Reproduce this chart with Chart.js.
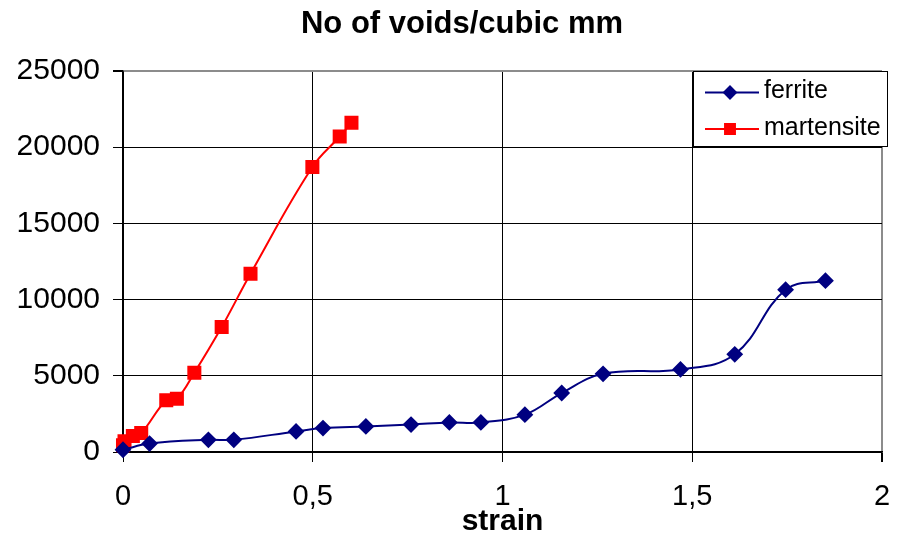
<!DOCTYPE html>
<html><head><meta charset="utf-8">
<script src="https://cdn.jsdelivr.net/npm/chart.js@4/dist/chart.umd.min.js"></script>
<style>html,body{margin:0;padding:0;background:#fff}canvas{display:block}</style>
</head><body>
<canvas id="c" width="898" height="540"></canvas>
<script>
const chartTitle = 'No of voids/cubic mm';
const xTitle = 'strain';
const seriesNames = ['ferrite', 'martensite'];
const ferriteStrain = [0, 0.07, 0.225, 0.292, 0.456, 0.527, 0.64, 0.759, 0.86, 0.943, 1.059, 1.156, 1.265, 1.469, 1.612, 1.746, 1.851];
const ferriteVoids  = [150, 550, 800, 800, 1350, 1570, 1680, 1800, 1940, 1940, 2450, 3870, 5130, 5420, 6410, 10650, 11240];
const martensiteStrain = [0, 0.004, 0.026, 0.048, 0.114, 0.142, 0.188, 0.26, 0.336, 0.499, 0.571, 0.602];
const martensiteVoids  = [450, 700, 1050, 1250, 3400, 3500, 5200, 8200, 11700, 18700, 20700, 21600];
const xTicks = [0, 0.5, 1, 1.5, 2];
const yTicks = [0, 5000, 10000, 15000, 20000, 25000];

const FONT = "'Liberation Sans', Arial, sans-serif";
const toPts = (xs, ys) => xs.map((x, i) => ({x: x, y: ys[i]}));

const titlePlugin = {
  id: 'offsetTitle',
  afterDraw(chart) {
    const ctx = chart.ctx;
    ctx.save();
    ctx.fillStyle = '#000';
    ctx.font = 'bold 31px ' + FONT;
    ctx.textAlign = 'center';
    ctx.textBaseline = 'alphabetic';
    ctx.fillText(chartTitle, chart.width / 2 + 13, 33);
    ctx.restore();
  }
};

const legendPlugin = {
  id: 'boxLegend',
  afterDraw(chart) {
    const ctx = chart.ctx;
    const a = chart.chartArea;
    const bx = a.right - 189, by = a.top, bw = 194, bh = 75;
    ctx.save();
    ctx.fillStyle = '#fff';
    ctx.fillRect(bx, by, bw, bh);
    ctx.strokeStyle = '#000';
    ctx.lineWidth = 1;
    ctx.strokeRect(bx + 0.5, by + 0.5, bw, bh);
    chart.data.datasets.forEach((ds, i) => {
      const y = by + 21.5 + i * 36.5;
      ctx.strokeStyle = ds.borderColor;
      ctx.lineWidth = 2;
      ctx.beginPath();
      ctx.moveTo(bx + 12, y);
      ctx.lineTo(bx + 66, y);
      ctx.stroke();
      Chart.helpers.drawPoint(ctx, {pointStyle: ds.pointStyle, radius: ds.pointStyle === 'rect' ? 7 : 6, borderWidth: 1}, bx + 37, y);
      ctx.fillStyle = ds.pointBackgroundColor;
      ctx.fill();
      ctx.fillStyle = '#000';
      ctx.font = '25px ' + FONT;
      ctx.textBaseline = 'middle';
      ctx.textAlign = 'left';
      ctx.fillText(ds.label, bx + 71, y - 1);
    });
    ctx.restore();
  }
};

const isLast = (c) => c.tick && c.index === c.scale.ticks.length - 1;
const gridColor = (c) => isLast(c) ? '#8c8c8c' : '#000';
const gridWidth = (c) => isLast(c) ? 2 : 1;

new Chart(document.getElementById('c'), {
  type: 'scatter',
  data: {
    datasets: [
      {
        label: seriesNames[0],
        data: toPts(ferriteStrain, ferriteVoids),
        showLine: true,
        clip: false,
        borderColor: '#000080',
        backgroundColor: '#000080',
        pointBackgroundColor: '#000080',
        pointBorderColor: '#000080',
        pointStyle: 'rectRot',
        pointRadius: 7,
        borderWidth: 2,
        tension: 0.4
      },
      {
        label: seriesNames[1],
        data: toPts(martensiteStrain, martensiteVoids),
        showLine: true,
        clip: false,
        borderColor: '#ff0000',
        backgroundColor: '#ff0000',
        pointBackgroundColor: '#ff0000',
        pointBorderColor: '#ff0000',
        pointStyle: 'rect',
        pointRadius: 8.5,
        borderWidth: 2,
        tension: 0.4
      }
    ]
  },
  options: {
    responsive: false,
    animation: false,
    devicePixelRatio: 1,
    layout: {padding: {left: 0, right: 16, top: 71, bottom: 0}},
    plugins: {
      legend: {display: false},
      tooltip: {enabled: false},
      title: {display: false}
    },
    scales: {
      x: {
        type: 'linear',
        min: xTicks[0],
        max: xTicks[xTicks.length - 1],
        afterBuildTicks: (s) => { s.ticks = xTicks.map(v => ({value: v})); },
        afterFit: (s) => { s.height = 88; s.paddingLeft = 0; s.paddingRight = 0; },
        ticks: {
          color: '#000',
          font: {family: FONT, size: 29},
          padding: 18,
          maxRotation: 0,
          callback: (v) => String(v).replace('.', ',')
        },
        grid: {color: gridColor, lineWidth: gridWidth, tickLength: 10, tickColor: '#000'},
        border: {color: '#000', width: 1.5},
        title: {
          display: true,
          text: xTitle,
          color: '#000',
          font: {family: FONT, size: 30, weight: 'bold'},
          padding: {top: 0, bottom: 0}
        }
      },
      y: {
        type: 'linear',
        min: yTicks[0],
        max: yTicks[yTicks.length - 1],
        afterBuildTicks: (s) => { s.ticks = yTicks.map(v => ({value: v})); },
        afterFit: (s) => { s.width = 123; s.paddingTop = 0; s.paddingBottom = 0; },
        ticks: {
          color: '#000',
          font: {family: FONT, size: 30},
          padding: 13,
          callback: (v) => String(v)
        },
        grid: {color: gridColor, lineWidth: gridWidth, tickLength: 10, tickColor: '#000'},
        border: {color: '#000', width: 1.5}
      }
    }
  },
  plugins: [legendPlugin, titlePlugin]
});
</script>
</body></html>
